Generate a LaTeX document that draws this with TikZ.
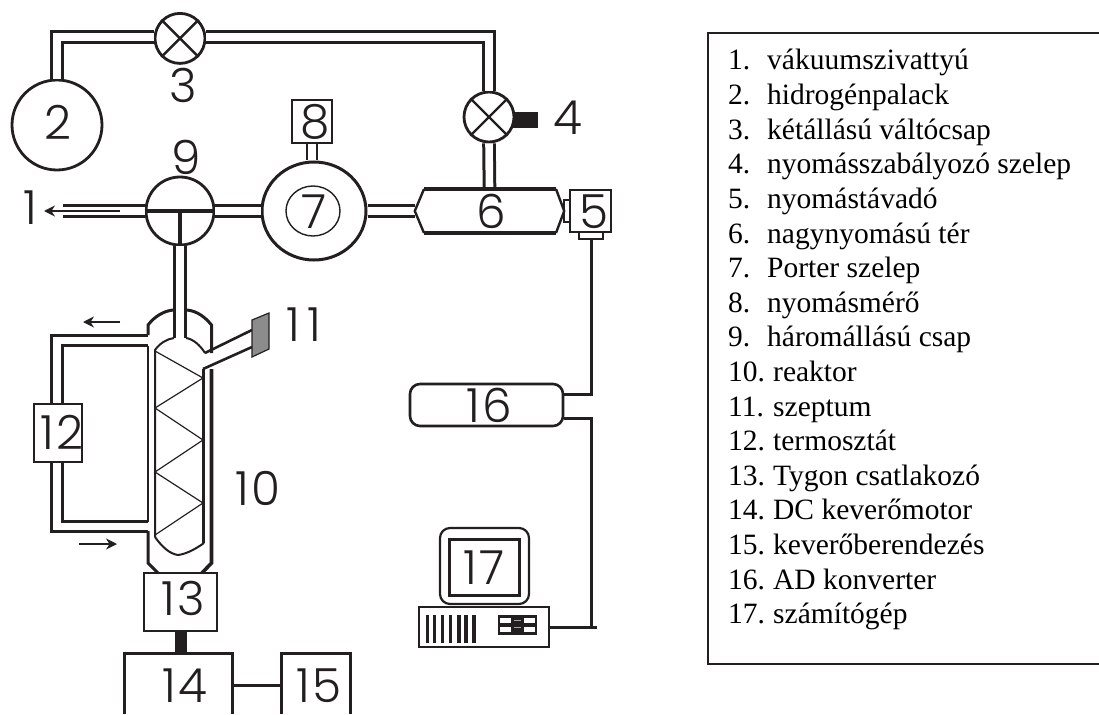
\documentclass[tikz,border=0pt]{standalone}
\usepackage{fontspec}
\setmainfont{Liberation Serif}
\newfontfamily\numfont[LetterSpace=5]{Poppins Light}
\usetikzlibrary{arrows.meta,shapes.geometric}
\definecolor{ink}{HTML}{231F20}

\begin{document}
\begin{tikzpicture}[
    x=1pt,y=-1pt,
    >=Stealth,
    draw=ink,
    num/.style={inner sep=0pt, text=ink, font=\numfont\fontsize{47}{47}\selectfont},
    pipe/.style={draw=ink, line width=3pt, double, double distance=7.6pt},
    stem/.style={draw=ink, line width=1.6pt, double, double distance=8.4pt},
    wall/.style={draw=ink, line width=3pt},
    thinwall/.style={draw=ink, line width=2pt},
    valve/.style={draw=ink, line width=2.8pt, circle, inner sep=0pt, minimum size=50pt},
    unit/.style={draw=ink, line width=2.2pt, inner sep=0pt},
    flow/.style={draw=ink, ->, line width=2.4pt, >={Stealth[length=11pt,width=11pt]}},
    legend/.style={anchor=base west, inner sep=0pt, font=\fontsize{29.5}{32}\selectfont}
]
\useasboundingbox (0,0) rectangle (1099,714);

% Gas side
\node[valve, minimum size=90pt]  (tank2)   at (57,125)   {};
\node[valve]                     (valve3)  at (180,38.4) {};
\node[valve]                     (valve4)  at (489,117)  {};
\node[valve, minimum size=68pt]  (hub9)    at (180,211)  {};
\node[unit, ellipse, line width=3pt, minimum width=104pt, minimum height=98pt] (porter7) at (314,211) {};
\node[unit, ellipse, line width=1.4pt, minimum width=54pt, minimum height=50pt]  (inner7)  at (313,211) {};
\node[unit, minimum width=40pt, minimum height=43pt] (gauge8) at (312,121.5) {};
\node[inner sep=0pt, minimum width=149pt, minimum height=44pt] (tank6) at (489.5,211) {};
\node[unit, line width=2.6pt, minimum width=41pt, minimum height=42pt] (press5) at (590.5,211) {};
\node[unit, minimum width=6pt, minimum height=22pt]  (neck5) at (567,211)   {};
\node[unit, minimum width=24pt, minimum height=7pt]  (foot5) at (591,235.5) {};
\node[draw=ink, fill=ink, minimum width=24pt, minimum height=15pt, inner sep=0pt] (knob4) at (525,119.5) {};
\coordinate (vacuum) at (63,211);
\coordinate (flowA)  at (120,211);
\coordinate (flowB)  at (44,211);

% Reactor side
\node[unit, minimum width=48pt, minimum height=58pt] (thermo12) at (58,433) {};
\node[unit, minimum width=73pt, minimum height=58pt] (coupler13) at (180.5,602) {};
\coordinate (reactortop) at (180,338);
\coordinate (jacketout)  at (148,340.5);
\coordinate (jacketin)   at (148,526.5);
\coordinate (flowC) at (120,322);
\coordinate (flowD) at (83,322);
\coordinate (flowE) at (79,544);
\coordinate (flowF) at (117,544);

% Electronics
\node[unit, line width=2.6pt, rounded corners=10pt, minimum width=153pt, minimum height=42pt] (adc16) at (486.5,405) {};
\node[unit, line width=2.2pt, rounded corners=10pt, minimum width=89pt, minimum height=76pt]  (monitor17) at (484.5,566) {};
\node[unit, line width=3pt,  minimum width=70pt, minimum height=56pt] (screen17) at (484,567) {};
\node[unit, line width=1.8pt, minimum width=130pt, minimum height=40pt] (case17) at (484,627) {};
\coordinate (bend17) at (591,627);
\coordinate (end17)  at (597,627);

% Pipes
\draw[pipe] (tank2.north) |- (valve3.177);
\draw[pipe] (valve3.3) -| (valve4.north);
\draw[pipe] (valve4.south) -- (tank6.north);
\draw[pipe] (hub9.east) -- (porter7.west);
\draw[pipe] (porter7.east) -- (tank6.west);
\draw[pipe] (vacuum) -- (hub9.west);
\draw[pipe] (hub9.south) -- (reactortop);
\draw[stem] (gauge8.south) -- (gauge8.south |- porter7.north);
\draw[pipe] (thermo12.north -| tank2) |- (jacketout);
\draw[pipe] (thermo12.south -| tank2) |- (jacketin);

% Valve marks
\foreach \v in {valve3,valve4}
    \draw[line width=2.4pt, draw=ink] (\v.45) -- (\v.225) (\v.135) -- (\v.315);
\draw[line width=3.4pt, draw=ink] (hub9.west) -- (hub9.east);
\draw[line width=3.4pt, draw=ink] (hub9.center) -- (hub9.south);
\draw[line width=3.6pt, draw=ink] (424,189) -- (556,189) (424,233) -- (556,233);
\draw[line width=2.4pt, draw=ink] (424,189) -- (tank6.west) -- (424,233) (556,189) -- (tank6.east) -- (556,233);

% Reactor body
\draw[thinwall, line width=2.4pt] (148,346) -- (148,522);
\draw[wall] (148,335) -- (148,325) .. controls (155,316) and (164,311) .. (173,310);
\draw[wall] (187,310) .. controls (197,311) and (205,317) .. (211.5,325) -- (211.5,353);
\draw[wall, line width=3.6pt] (211.5,369) -- (211.5,563) -- (202,573);
\draw[wall] (148,531) -- (148,563) -- (158,573);
\draw[thinwall] (155,537) -- (155,350) .. controls (160,343) and (167,339) .. (174,338);
\draw[thinwall] (186,338) .. controls (193,339) and (200,345) .. (205,353);
\draw[wall] (203.5,369) -- (203.5,543);
\draw[thinwall] (155,537) .. controls (162,547) and (170,554) .. (178,555) .. controls (187,554) and (197,548) .. (204,543);
\draw[draw=ink, line width=1.2pt] (155,351) -- (203,378) -- (155,408) -- (203,440) -- (155,472) -- (203,503) -- (155,535);

% Septum arm
\draw[wall, line width=2.6pt] (205,353) -- (252,330);
\draw[wall, line width=2.6pt] (203,369) -- (252,347);
\draw[draw=ink, line width=1.2pt, fill=black!45] (252,320) -- (269,313) -- (269,349) -- (252,357) -- cycle;

% Flow arrows
\draw[flow, line width=1.6pt] (flowA) -- (flowB);
\draw[flow] (flowC) -- (flowD);
\draw[flow] (flowE) -- (flowF);

% Stirrer
\draw[fill=ink, draw=ink] (175,631) rectangle (186,653);
\draw[wall] (124,714) -- (124,653) -- (232.5,653) -- (232.5,714);
\draw[wall] (281,714) -- (281,653) -- (350,653) -- (350,714);
\draw[wall] (232.5,685) -- (281,685);

% Wiring
\draw[wall] (adc16.8) -| (foot5.south);
\draw[wall] (adc16.-10) -| (bend17);
\draw[wall] (case17.east) -- (end17);

% Computer front
\foreach \x/\w in {427.3/2.6,434.5/2.6,442.3/3,450.5/3,459/3.8,466.2/3.8,474/3.4}
    \draw[draw=ink, line width=\w pt] (\x,615) -- (\x,643);
\node[draw=ink, fill=ink, minimum width=38pt, minimum height=19pt, inner sep=0pt] (drive17) at (517,624.5) {};
\foreach \x/\y in {500/617.5,524/617.5,500/626.5,524/626.5}
    \fill[white] (\x,\y) rectangle ++(10.5,5.5);
\foreach \y in {620.5,627.5}
    \draw[draw=black!35, line width=1.2pt] (514,\y) -- (521,\y);

% Numbers
\node[num] (lab1)  at (30,208)  {1};
\node[num] (lab2)  at (58,122)  {2};
\node[num] (lab3)  at (183,85)  {3};
\node[num] (lab4)  at (568,118) {4};
\node[num] (lab5)  at (594,212) {5};
\node[num] (lab6)  at (491,211) {6};
\node[num] (lab7)  at (314,212) {7};
\node[num] (lab8)  at (315,122) {8};
\node[num] (lab9)  at (186,157) {9};
\node[num] (lab10) at (258,488) {10};
\node[num] (lab11) at (304,325) {1\kern8pt 1};
\node[num] (lab12) at (62,432)  {12};
\node[num] (lab13) at (183,598) {13};
\node[num] (lab14) at (185,686) {14};
\node[num] (lab15) at (319,686) {15};
\node[num] (lab16) at (489,405) {16};
\node[num] (lab17) at (484,568) {17};

% Legend
\draw[draw=ink, line width=1.8pt] (1099,33) -- (708,33) -- (708,664) -- (1099,664);
\foreach \n/\t in {1/vákuumszivattyú,2/hidrogénpalack,3/kétállású váltócsap,4/nyomásszabályozó szelep,5/nyomástávadó,6/nagynyomású tér,7/Porter szelep,8/nyomásmérő,9/háromállású csap,10/reaktor,11/szeptum,12/termosztát,13/Tygon csatlakozó,14/DC keverőmotor,15/keverőberendezés,16/AD konverter,17/számítógép}
    \node[legend] (item\n) at (728,{70+(\n-1)*34.6}) {\ifnum\n<10 \makebox[39pt][l]{\n.}\else \makebox[45pt][l]{\n.}\fi\t};

\end{tikzpicture}
\end{document}
